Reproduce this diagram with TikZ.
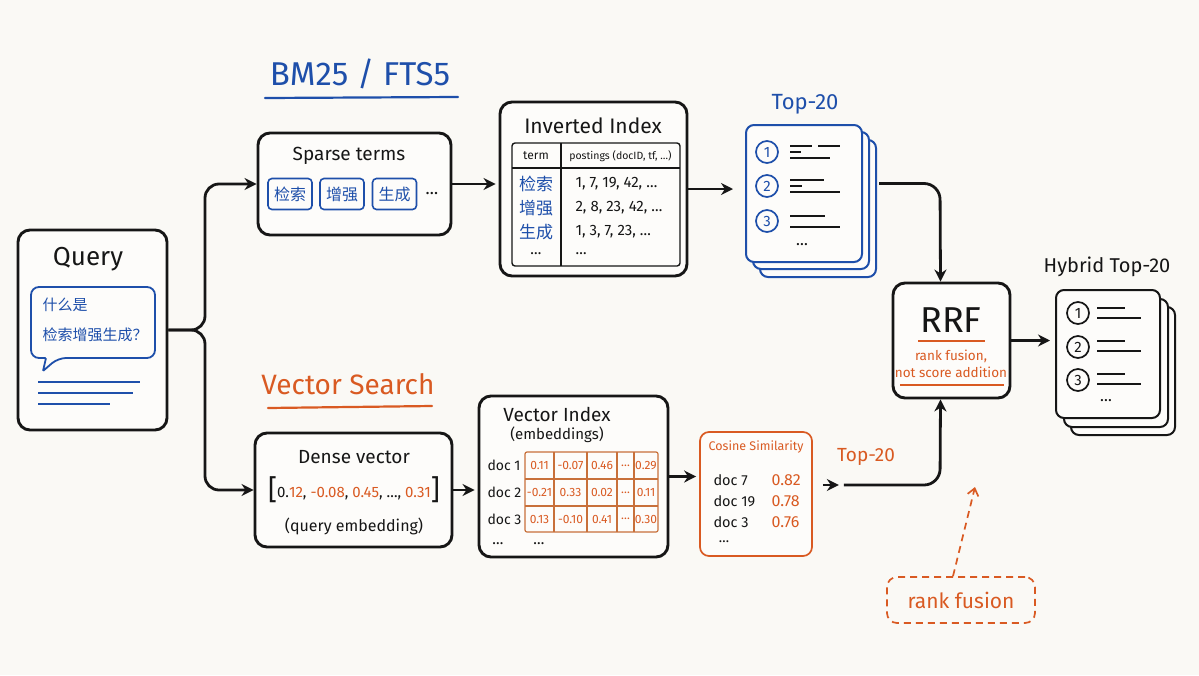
\documentclass[tikz,border=0pt]{standalone}
\usepackage{fontspec}
\setmainfont{Fira Sans}
\newfontfamily\cjk{Noto Sans CJK SC}
\usetikzlibrary{arrows.meta,calc}
\definecolor{bg}{HTML}{FAF9F5}
\definecolor{boxfill}{HTML}{FDFCFA}
\definecolor{myblue}{HTML}{1E4FAA}
\definecolor{myorange}{HTML}{D95A22}
\definecolor{tabline}{HTML}{C8703A}
\definecolor{ink}{HTML}{161616}
\newcommand\myfs[1]{\fontsize{#1}{#1}\selectfont}
\tikzset{
  box/.style={draw=ink, line width=2.9pt, rounded corners=12pt, fill=boxfill, inner sep=0pt},
  arr/.style={-{Stealth[length=12pt,width=12pt]}, line width=2.8pt, draw=ink},
  termbox/.style={draw=myblue, line width=1.6pt, rounded corners=4pt, minimum width=44pt, minimum height=31pt, font=\cjk\myfs{16}, text=myblue, fill=boxfill},
  bcard/.style={draw=myblue, line width=2pt, rounded corners=8pt, fill=boxfill},
  kcard/.style={draw=ink, line width=2pt, rounded corners=8pt, fill=boxfill},
  bnum/.style={circle, draw=myblue, line width=1.7pt, minimum size=22pt, inner sep=0pt, font=\myfs{15}, text=myblue},
  knum/.style={circle, draw=ink, line width=1.7pt, minimum size=22pt, inner sep=0pt, font=\myfs{15}, text=ink},
  bar/.style={line width=1.9pt, draw=ink},
  cell/.style={font=\myfs{12}, text=myorange},
}
\begin{document}
\begin{tikzpicture}[x=1pt,y=-1pt]
\useasboundingbox[fill=bg] (0,0) rectangle (1199,675);

% ---------- Query ----------
\node[box, minimum width=149pt, minimum height=200pt] (query) at (92.5,330) {};
\node[font=\myfs{26}, text=ink] (qt) at (88,259) {Query};
\draw[myblue, line width=1.8pt, fill=boxfill, rounded corners=8pt]
  (31,287) -- (155,287) -- (155,358) -- (58,358) [rounded corners=1pt] -- (43,371) -- (46,358) [rounded corners=8pt] -- (31,358) -- cycle;
\node[anchor=west, font=\cjk\myfs{15}, text=myblue] (q1) at (39,305) {什么是};
\node[anchor=west, font=\cjk\myfs{15}, text=myblue] (q2) at (39,335) {检索增强生成？};
\draw[myblue, line width=1.7pt] (38,382) -- (140,382);
\draw[myblue, line width=1.7pt] (38,393) -- (133,393);
\draw[myblue, line width=1.7pt] (38,404) -- (110,404);

% ---------- titles ----------
\node[font=\myfs{33}, text=myblue] (bm) at (360,74) {BM25 / FTS5};
\draw[myblue, line width=2.2pt, line cap=round] (265,98) -- (458,97);
\node[font=\myfs{28}, text=myorange] (vs) at (348,384) {Vector Search};
\draw[myorange, line width=2.2pt, line cap=round] (268,408) -- (432,406);

% ---------- Sparse terms ----------
\node[box, minimum width=193pt, minimum height=102pt] (sparse) at (354.5,184) {};
\node[font=\myfs{19}, text=ink] (spt) at (349,156) {Sparse terms};
\node[termbox] (t1) at (290,194) {检索};
\node[termbox] (t2) at (342,194) {增强};
\node[termbox] (t3) at (394.5,194) {生成};
\node[font=\myfs{17}, text=ink] (tdots) at (432,194) {…};

% ---------- Dense vector ----------
\node[box, minimum width=197pt, minimum height=114pt] (dense) at (353.5,490) {};
\node[font=\myfs{19}, text=ink] (dt) at (354,457) {Dense vector};
\node[font=\myfs{15}, text=ink] (dv) at (354,490) {{\myfs{28}\raisebox{-2pt}{[}}0.\textcolor{myorange}{12}, \textcolor{myorange}{-0.08}, \textcolor{myorange}{0.45}, …, \textcolor{myorange}{0.31}{\myfs{28}\raisebox{-2pt}{]}}};
\node[font=\myfs{16}, text=ink] (dq) at (354,526) {(query embedding)};

% ---------- branch arrows ----------
\draw[arr, rounded corners=14pt] (query.east) -- (205,330) -- (205,184) -- (sparse.west);
\draw[arr, rounded corners=14pt] (query.east) -- (205,330) -- (205,490) -- (dense.west);

% ---------- Inverted Index ----------
\node[box, minimum width=187pt, minimum height=174pt] (inv) at (593.5,189) {};
\node[font=\myfs{21}, text=ink] (invt) at (593,126) {Inverted Index};
\draw[ink, line width=1.4pt, rounded corners=3pt] (512,143) rectangle (680,266);
\draw[ink, line width=1.4pt] (512,168) -- (680,168);
\draw[ink, line width=1.4pt] (561,143) -- (561,266);
\node[font=\myfs{12}, text=ink] (h1) at (536,156) {term};
\node[font=\myfs{10.5}, text=ink] (h2) at (620.5,156) {postings (docID, tf, …)};
\node[font=\cjk\myfs{17}, text=myblue] (r1) at (536,184) {检索};
\node[font=\cjk\myfs{17}, text=myblue] (r2) at (536,208) {增强};
\node[font=\cjk\myfs{17}, text=myblue] (r3) at (536,232) {生成};
\node[font=\myfs{15}, text=ink] (r4) at (536,254) {…};
\node[anchor=west, font=\myfs{15}, text=ink] (p1) at (572,184) {1, 7, 19, 42, …};
\node[anchor=west, font=\myfs{15}, text=ink] (p2) at (572,208) {2, 8, 23, 42, …};
\node[anchor=west, font=\myfs{15}, text=ink] (p3) at (572,232) {1, 3, 7, 23, …};
\node[anchor=west, font=\myfs{15}, text=ink] (p4) at (572,254) {…};

\draw[arr, shorten >=3pt] (sparse.east) -- (sparse.east -| inv.west);

% ---------- Top-20 stack ----------
\draw[bcard] (760,140) rectangle (876,277);
\draw[bcard] (753,132) rectangle (869,269);
\node[bcard, minimum width=116pt, minimum height=137pt] (top) at (804,193.5) {};
\node[font=\myfs{22}, text=myblue] (topt) at (805,104) {Top-20};
\node[bnum] (n1) at (767,152) {1};
\node[bnum] (n2) at (767,186) {2};
\node[bnum] (n3) at (767,221) {3};
\draw[bar] (790,146) -- (812,146); \draw[bar] (818,146) -- (840,146);
\draw[bar] (790,152) -- (801,152); \draw[bar] (790,158) -- (830,158);
\draw[bar] (790,180) -- (824,180); \draw[bar] (790,186) -- (802,186);
\draw[bar] (790,192) -- (840,192);
\draw[bar] (790,216) -- (825,216); \draw[bar] (790,227) -- (840,227);
\node[font=\myfs{16}, text=ink] (tdd) at (802,245) {…};

\draw[arr, shorten >=12pt] (inv.east) -- (inv.east -| top.west);

% ---------- RRF ----------
\node[box, minimum width=117pt, minimum height=115pt] (rrf) at (951.5,340.5) {};
\node[font=\myfs{36}, text=ink] (rrft) at (951,320) {RRF};
\draw[myorange, line width=1.8pt] (918,341) -- (985,341);
\node[font=\myfs{13.5}, text=myorange] (rf1) at (951,356) {rank fusion,};
\node[font=\myfs{13.5}, text=myorange] (rf2) at (951,372) {not score addition};
\draw[myorange, line width=1.8pt] (900,385) -- (1004,385);

\coordinate (topout) at ($(top.east)+(16,-10)$);
\draw[arr, rounded corners=16pt] (topout) -- (940,183.5) -- ($(rrf.north)+(-11,0)$);

% ---------- Hybrid Top-20 ----------
\draw[kcard] (1071,307) rectangle (1175,435);
\draw[kcard] (1064,299) rectangle (1168,427);
\node[kcard, minimum width=104pt, minimum height=128pt] (hyb) at (1108,354) {};
\node[font=\myfs{20}, text=ink] (hybt) at (1107,267) {Hybrid Top-20};
\node[knum] (m1) at (1078,313) {1};
\node[knum] (m2) at (1078,347) {2};
\node[knum] (m3) at (1078,380) {3};
\draw[bar] (1097,308) -- (1125,308); \draw[bar] (1097,318) -- (1141,318);
\draw[bar] (1097,341) -- (1125,341); \draw[bar] (1097,351) -- (1141,351);
\draw[bar] (1097,374) -- (1125,374); \draw[bar] (1097,384) -- (1141,384);
\node[font=\myfs{16}, text=ink] (hdd) at (1106,401) {…};

\draw[arr, shorten >=5pt] (rrf.east) -- (rrf.east -| hyb.west);

% ---------- Vector Index ----------
\node[box, minimum width=189pt, minimum height=161pt] (vec) at (573.5,476.5) {};
\node[font=\myfs{19}, text=ink] (vt) at (557,414) {Vector Index};
\node[font=\myfs{15}, text=ink] (ve) at (557,435) {(embeddings)};
\draw[tabline, line width=1.2pt, rounded corners=2pt] (525,452) rectangle (658,532);
\foreach \yy in {479,506} \draw[tabline, line width=1.2pt] (525,\yy) -- (658,\yy);
\foreach \xx in {554,587,617,634} \draw[tabline, line width=1.2pt] (\xx,452) -- (\xx,532);
\node[anchor=west, font=\myfs{14}, text=ink] (d1) at (484,465.5) {doc 1};
\node[anchor=west, font=\myfs{14}, text=ink] (d2) at (484,492.5) {doc 2};
\node[anchor=west, font=\myfs{14}, text=ink] (d3) at (484,519) {doc 3};
\node[cell] at (539.5,465.5) {0.11};  \node[cell] at (570.5,465.5) {-0.07};
\node[cell] at (602,465.5) {0.46};    \node[cell] at (625.5,465.5) {…};
\node[cell] at (646,465.5) {0.29};
\node[cell] at (539.5,492.5) {-0.21}; \node[cell] at (570.5,492.5) {0.33};
\node[cell] at (602,492.5) {0.02};    \node[cell] at (625.5,492.5) {…};
\node[cell] at (646,492.5) {0.11};
\node[cell] at (539.5,519) {0.13};    \node[cell] at (570.5,519) {-0.10};
\node[cell] at (602,519) {0.41};      \node[cell] at (625.5,519) {…};
\node[cell] at (646,519) {0.30};
\node[font=\myfs{15}, text=ink] (vd1) at (498,544) {…};
\node[font=\myfs{15}, text=ink] (vd2) at (539,544) {…};

\draw[arr, shorten >=3pt] (dense.east) -- (dense.east -| vec.west);

% ---------- Cosine Similarity ----------
\node[draw=myorange, line width=1.7pt, rounded corners=9pt, fill=boxfill, minimum width=112pt, minimum height=124pt, inner sep=0pt] (cos) at (756,494) {};
\node[font=\myfs{12.5}, text=myorange] (cst) at (756,447) {Cosine Similarity};
\node[anchor=west, font=\myfs{14.5}, text=ink] (c1) at (710,480) {doc 7};
\node[anchor=west, font=\myfs{14.5}, text=ink] (c2) at (710,501) {doc 19};
\node[anchor=west, font=\myfs{14.5}, text=ink] (c3) at (710,522) {doc 3};
\node[anchor=west, font=\myfs{16}, text=myorange] (v1) at (768,480) {0.82};
\node[anchor=west, font=\myfs{16}, text=myorange] (v2) at (768,501) {0.78};
\node[anchor=west, font=\myfs{16}, text=myorange] (v3) at (768,522) {0.76};
\node[font=\myfs{14}, text=ink] (cdd) at (724,542) {…};

\draw[arr, shorten >=3pt] (vec.east) -- (vec.east -| cos.west);

\node[font=\myfs{19}, text=myorange] (t20o) at (866,457) {Top-20};
\coordinate (ca) at ($(cos.east)+(10,-9)$);
\coordinate (cb) at ($(cos.east)+(26,-9)$);
\coordinate (cc) at ($(cos.east)+(31,-9)$);
\draw[arr] (ca) -- (cb);
\draw[arr, rounded corners=16pt] (cc) -- (940,485) -- ($(rrf.south)+(-11,0)$);

% ---------- rank fusion note ----------
\node[draw=myorange, dash pattern=on 7pt off 5pt, line width=1.7pt, rounded corners=10pt, minimum width=148pt, minimum height=46pt, font=\myfs{21}, text=myorange] (rfn) at (961,600) {rank fusion};
\coordinate (rfend) at (975,487);
\draw[myorange, line width=1.7pt, dash pattern=on 7pt off 5pt, -{Straight Barb[length=7pt,width=11pt]}] ($(rfn.north)+(-8,0)$) -- (rfend);

\end{tikzpicture}
\end{document}
